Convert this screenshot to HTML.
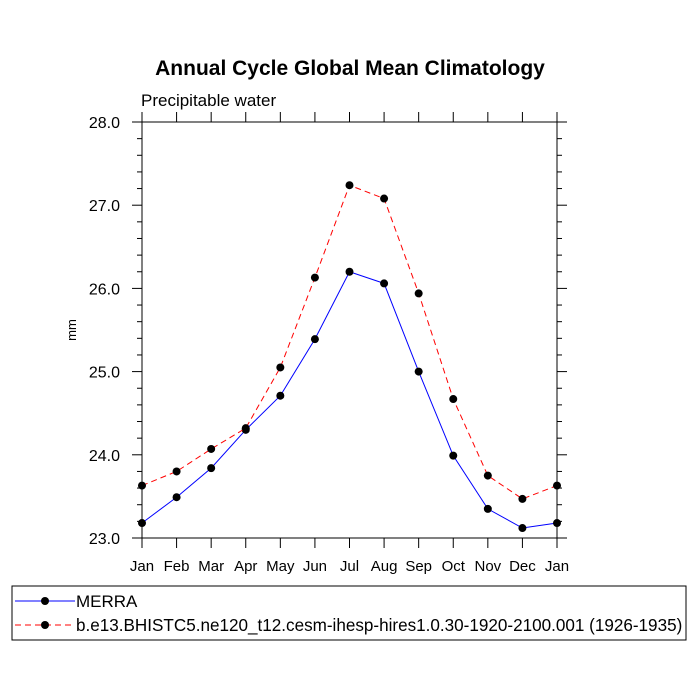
<!DOCTYPE html>
<html><head><meta charset="utf-8"><style>body{margin:0;background:#fff}svg{display:block}text{font-family:"Liberation Sans",sans-serif}</style></head>
<body>
<svg id="chart" width="700" height="700">
<text x="350" y="75" font-size="21" font-weight="bold" text-anchor="middle">Annual Cycle Global Mean Climatology</text>
<text x="141" y="106" font-size="17">Precipitable water</text>
<text x="76" y="330" font-size="13" text-anchor="middle" transform="rotate(-90 76 330)">mm</text>
<g id="axes"></g><g id="series"></g>
<rect x="12" y="586" width="674" height="54" fill="none" stroke="#000"/>
<line x1="15" y1="601" x2="75" y2="601" stroke="blue"/>
<circle cx="45" cy="601" r="4" fill="#000"/>
<text x="76" y="607" font-size="17">MERRA</text>
<line x1="15" y1="625" x2="75" y2="625" stroke="red" stroke-dasharray="6,4"/>
<circle cx="45" cy="625" r="4" fill="#000"/>
<text x="76" y="631" font-size="17.1">b.e13.BHISTC5.ne120_t12.cesm-ihesp-hires1.0.30-1920-2100.001 (1926-1935)</text>
</svg>
<script>
const months=["Jan","Feb","Mar","Apr","May","Jun","Jul","Aug","Sep","Oct","Nov","Dec","Jan"];
const merra=[23.18,23.49,23.84,24.30,24.71,25.39,26.20,26.06,25.00,23.99,23.35,23.12,23.18];
const model=[23.63,23.80,24.07,24.32,25.05,26.13,27.24,27.08,25.94,24.67,23.75,23.47,23.63];
const yTicks=["23.0","24.0","25.0","26.0","27.0","28.0"];
const NS="http://www.w3.org/2000/svg";
const L=142,R=557,T=122,B=538,ymin=23,ymax=28;
const xs=i=>L+i*(R-L)/(months.length-1);
const ys=v=>B-(v-ymin)/(ymax-ymin)*(B-T);
function mk(tag,at,parent){const e=document.createElementNS(NS,tag);for(const k in at)e.setAttribute(k,at[k]);parent.appendChild(e);return e;}
const ax=document.getElementById('axes'),se=document.getElementById('series');
const frame=mk('rect',{x:L,y:T,width:R-L,height:B-T,fill:'none',stroke:'#000','stroke-width':1},ax);


for(let v=ymin;v<=ymax+1e-9;v+=0.2){const y=ys(v);const major=Math.abs(v-Math.round(v))<1e-6;const len=major?10:5;
 const t1=mk('line',{x1:L-len,y1:y,x2:L,y2:y,stroke:'#000'},ax);
 
 
 const t2=mk('line',{x1:R,y1:y,x2:R+len,y2:y,stroke:'#000'},ax);
 
 }
yTicks.forEach(s=>{const y=ys(parseFloat(s));const t=mk('text',{x:L-22,y:y+6,'font-size':16,'text-anchor':'end'},ax);t.textContent=s;
 
 });
months.forEach((m,i)=>{const x=xs(i);
 const t1=mk('line',{x1:x,y1:B,x2:x,y2:B+10,stroke:'#000'},ax);
 
 
 const t2=mk('line',{x1:x,y1:T-10,x2:x,y2:T,stroke:'#000'},ax);
 
 
 const t=mk('text',{x:x,y:B+33,'font-size':15,'text-anchor':'middle'},ax);t.textContent=m;
 
 });
function series(vals,color,dash,name){
 const p=mk('polyline',{points:vals.map((v,i)=>xs(i)+','+ys(v)).join(' '),fill:'none',stroke:color,'stroke-width':1,'stroke-dasharray':dash},se);
 
 
 vals.forEach((v,i)=>{const c=mk('circle',{cx:xs(i),cy:ys(v),r:4,fill:'#000'},se);
 
 });}
series(merra,'blue','none','merra');
series(model,'red','6,4','model');
</script>
</body></html>
